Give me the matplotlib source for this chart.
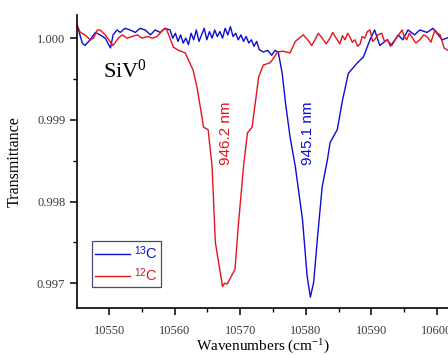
import matplotlib
matplotlib.use('Agg')
import matplotlib.pyplot as plt
from matplotlib.lines import Line2D

plt.rcParams['mathtext.fontset'] = 'custom'
plt.rcParams['mathtext.rm'] = 'Liberation Serif'
plt.rcParams['mathtext.it'] = 'Liberation Serif:italic'
plt.rcParams['mathtext.sf'] = 'Liberation Sans'

# 12C sample (red)
wn_12c = [10545.1, 10545.6, 10546.3, 10547.1, 10547.6, 10548.2, 10548.6, 10549.4,
          10550.2, 10550.6, 10551.4, 10552.0, 10552.7, 10553.5, 10554.3, 10555.0,
          10555.8, 10556.6, 10557.3, 10558.2, 10558.7, 10559.8, 10560.6, 10561.6,
          10562.8, 10563.4, 10563.9, 10564.4, 10565.1, 10565.7, 10566.2, 10567.3,
          10567.6, 10568.0, 10568.4, 10568.8, 10569.2, 10569.7, 10570.5, 10571.1,
          10571.8, 10572.3, 10572.8, 10573.5, 10574.6, 10575.7, 10576.5, 10577.6,
          10578.4, 10579.0, 10579.6, 10580.3, 10580.9, 10581.4, 10581.9, 10582.5,
          10583.1, 10583.7, 10584.1, 10584.8, 10585.2, 10585.6, 10586.0, 10586.4,
          10586.7, 10587.1, 10587.5, 10587.9, 10588.3, 10588.6, 10589.0, 10589.4,
          10589.8, 10590.2, 10590.5, 10591.0, 10591.6, 10592.0, 10592.5, 10592.9,
          10593.3, 10594.0, 10594.7, 10595.0, 10595.4, 10595.8, 10596.3, 10596.8,
          10597.4, 10598.0, 10598.6, 10599.1, 10599.7, 10600.1, 10600.5, 10601.1,
          10601.7, 10603.0]
tr_12c = [1.00016, 1.00007, 1.00004, 0.99998, 1.00000, 1.00010, 1.00010, 1.00004,
          0.99995, 0.99991, 1.00000, 1.00004, 1.00000, 1.00002, 1.00004, 1.00000,
          1.00002, 1.00000, 1.00002, 1.00010, 1.00012, 0.99989, 0.99985, 0.99982,
          0.99961, 0.99940, 0.99916, 0.99891, 0.99888, 0.99843, 0.99750, 0.99696,
          0.99700, 0.99699, 0.99705, 0.99711, 0.99717, 0.99770, 0.99843, 0.99884,
          0.99891, 0.99921, 0.99952, 0.99967, 0.99970, 0.99983, 0.99984, 0.99982,
          0.99996, 1.00000, 1.00004, 0.99998, 0.99991, 0.99998, 1.00006, 1.00000,
          0.99993, 1.00000, 1.00007, 0.99998, 0.99993, 1.00003, 0.99998, 1.00006,
          1.00002, 0.99995, 0.99998, 0.99990, 0.99993, 1.00002, 1.00000, 1.00008,
          1.00010, 0.99996, 0.99998, 1.00004, 1.00006, 0.99996, 0.99998, 0.99990,
          0.99995, 1.00002, 1.00010, 1.00002, 0.99998, 1.00006, 1.00000, 0.99994,
          0.99998, 1.00004, 1.00001, 0.99995, 1.00010, 1.00006, 1.00004, 0.99988,
          0.99985, 0.99987]

# 13C sample (blue)
wn_13c = [10545.1, 10545.9, 10546.3, 10547.1, 10547.9, 10548.6, 10549.4, 10550.2,
          10550.6, 10551.2, 10551.7, 10552.4, 10553.2, 10554.0, 10554.7, 10555.5,
          10556.3, 10557.0, 10557.8, 10558.5, 10559.3, 10559.7, 10560.1, 10560.5,
          10560.9, 10561.3, 10561.7, 10562.1, 10562.5, 10562.9, 10563.3, 10563.7,
          10564.1, 10564.5, 10564.9, 10565.3, 10565.7, 10566.1, 10566.5, 10566.9,
          10567.3, 10567.7, 10568.1, 10568.5, 10568.9, 10569.3, 10569.7, 10570.1,
          10570.5, 10570.9, 10571.3, 10571.7, 10572.1, 10572.5, 10572.9, 10573.5,
          10574.2, 10574.8, 10575.3, 10575.8, 10576.4, 10576.9, 10577.6, 10578.4,
          10579.5, 10580.2, 10580.7, 10581.2, 10581.8, 10582.5, 10583.3, 10583.7,
          10584.8, 10585.6, 10586.5, 10587.9, 10588.8, 10589.8, 10590.5, 10591.3,
          10592.4, 10593.1, 10594.1, 10594.8, 10595.6, 10596.6, 10597.4, 10598.5,
          10599.4, 10600.2, 10600.8, 10601.5, 10603.0]
tr_13c = [1.00016, 0.99994, 0.99991, 0.99998, 1.00007, 1.00004, 1.00000, 0.99988,
          1.00004, 1.00010, 1.00007, 1.00012, 1.00010, 1.00007, 1.00012, 1.00010,
          1.00004, 1.00010, 1.00007, 1.00012, 1.00010, 1.00000, 1.00006, 0.99996,
          1.00004, 0.99994, 1.00000, 0.99992, 1.00006, 0.99998, 1.00010, 0.99996,
          1.00004, 1.00012, 0.99998, 1.00008, 1.00000, 1.00010, 1.00002, 1.00008,
          1.00000, 1.00012, 1.00004, 1.00014, 1.00002, 1.00006, 0.99998, 1.00004,
          0.99996, 1.00002, 0.99994, 0.99998, 0.99990, 0.99996, 0.99986, 0.99983,
          0.99985, 0.99979, 0.99985, 0.99983, 0.99957, 0.99921, 0.99879, 0.99843,
          0.99778, 0.99709, 0.99683, 0.99701, 0.99757, 0.99818, 0.99851, 0.99872,
          0.99888, 0.99924, 0.99957, 0.99970, 0.99977, 0.99998, 1.00010, 0.99991,
          0.99998, 0.99991, 1.00004, 0.99998, 1.00010, 1.00004, 1.00010, 1.00007,
          1.00012, 1.00004, 0.99998, 1.00000, 1.00005]

red = '#e3141b'
blue = '#0c0cd6'
serif = 'Liberation Serif'
sans = 'Liberation Sans'

fig = plt.figure(figsize=(4.48, 3.55), dpi=100)
ax = fig.add_axes([0.172, 0.132, 0.828, 0.825])

ax.plot(wn_13c, tr_13c, color=blue, lw=1.0)
ax.plot(wn_12c, tr_12c, color=red, lw=1.0)

ax.set_xlim(10545.1, 10601.7)
ax.set_ylim(0.996695, 1.00028)
ax.set_xticks([10550, 10560, 10570, 10580, 10590, 10600])
ax.set_xticks([10555, 10565, 10575, 10585, 10595], minor=True)
ax.set_yticks([0.997, 0.998, 0.999, 1.000])
ax.set_yticks([0.9975, 0.9985, 0.9995], minor=True)
ax.set_yticklabels(['0.997', '0.998', '0.999', '1.000'])
ax.set_xticklabels(['10550', '10560', '10570', '10580', '10590', '10600'])

for s in ['top', 'right']:
    ax.spines[s].set_visible(False)
for s in ['left', 'bottom']:
    ax.spines[s].set_linewidth(1.2)
ax.tick_params(which='major', direction='out', length=5, width=1.1,
               labelsize=9, labelcolor='#3a3a3a')
ax.tick_params(axis='x', which='major', pad=7)
ax.tick_params(which='minor', direction='out', length=3, width=1.0)
for lab in ax.get_xticklabels() + ax.get_yticklabels():
    lab.set_fontfamily(serif)

ax.set_xlabel(r'Wavenumbers (cm$^{\mathrm{-1}}$)', fontfamily=serif, fontsize=11,
              labelpad=1)
ax.set_ylabel('Transmittance', fontfamily=serif, fontsize=11.5, labelpad=10)

ax.text(10549.0, 0.99951, r'SiV$^{\mathrm{0}}$', fontfamily=serif, fontsize=16,
        color='black')
ax.text(10567.9, 0.99883, '946.2 nm', rotation=90, color=red, fontfamily=sans,
        fontsize=11, ha='center', va='center')
ax.text(10580.4, 0.99883, '945.1 nm', rotation=90, color=blue, fontfamily=sans,
        fontsize=11, ha='center', va='center')

handles = [Line2D([], [], color=blue, lw=1.0), Line2D([], [], color=red, lw=1.0)]
labels = [r'$^{\mathsf{13}}\mathsf{C}$', r'$^{\mathsf{12}}\mathsf{C}$']
leg = ax.legend(handles, labels, loc='lower left',
                bbox_to_anchor=(0.04, 0.072), borderaxespad=0, frameon=True,
                fancybox=False, handlelength=2.4, handletextpad=0.3,
                borderpad=0.2, labelspacing=0.3, prop={'family': sans, 'size': 10.5})
leg.get_frame().set_edgecolor('#1a1a5a')
leg.get_frame().set_linewidth(0.9)
for txt, c in zip(leg.get_texts(), [blue, red]):
    txt.set_color(c)

plt.savefig('out.png', dpi=100)
